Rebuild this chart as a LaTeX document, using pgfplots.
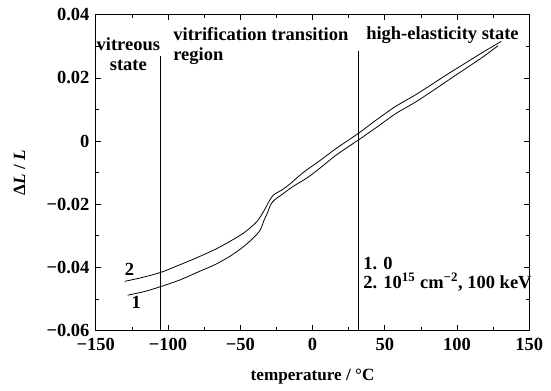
\documentclass[border=0pt]{standalone}
\usepackage{pgfplots}
\pgfplotsset{compat=1.18}
\usepackage{fontspec}
\setmainfont{Liberation Serif}
\begin{document}
\fontsize{14}{15}\selectfont\bfseries
\begin{tikzpicture}
\begin{axis}[
  scale only axis,
  width=328.5pt, height=239.25pt,
  xmin=-150, xmax=150, ymin=-0.06, ymax=0.04,
  scaled y ticks=false,
  xtick={-150,-100,-50,0,50,100,150},
  xticklabels={−150,−100,−50,0,50,100,150},
  ytick={-0.06,-0.04,-0.02,0,0.02,0.04},
  yticklabels={−0.06,−0.04,−0.02,0,0.02,0.04},
  minor xtick={-125,-75,-25,25,75,125},
  minor ytick={-0.05,-0.03,-0.01,0.01,0.03},
  tick align=inside,
  major tick length=4pt, minor tick length=2.5pt,
  tick style={black, line width=0.6pt},
  axis line style={line width=0.9pt},
  ticklabel style={font=\fontsize{14}{15}\selectfont\bfseries},
  xticklabel style={yshift=-1pt},
  xlabel={temperature / °C},
  ylabel={Δ\textit{L} / \textit{L}},
  label style={font=\fontsize{13}{15}\selectfont\bfseries},
  xlabel style={at={(axis description cs:0.5,-0.147)}, anchor=center},
  ylabel style={at={(axis description cs:-0.176,0.5)}, anchor=center},
  clip=false,
]
\path (rel axis cs:-0.221,0.5) (rel axis cs:0.5,1.047) (rel axis cs:1.05,0.5);
% region separators
\addplot[black, line width=0.6pt] coordinates {(-105,-0.06) (-105,0.027)};
\addplot[black, line width=0.6pt] coordinates {(31.5,-0.06) (31.5,0.0284)};
% curve 2 (upper)
\addplot[black, line width=0.6pt, smooth] coordinates {
(-130,-0.0444) (-118,-0.0432) (-104.6,-0.0415) (-92,-0.0392) (-79.5,-0.0368)
(-67,-0.0342) (-56.6,-0.0316) (-48,-0.0292) (-43,-0.0274) (-38,-0.0252)
(-33.8,-0.0222) (-30,-0.0190) (-27,-0.0170) (-22,-0.0157) (-16,-0.0137)
(-10,-0.0113) (-4,-0.0091) (5,-0.0062) (16.4,-0.0023) (31.5,0.0024)
(45,0.0070) (57.5,0.0110) (71,0.0146) (82,0.0178) (92,0.0208)
(105,0.0245) (118,0.0282) (130.6,0.0316)};
% curve 1 (lower)
\addplot[black, line width=0.6pt, smooth] coordinates {
(-128,-0.0488) (-116,-0.0476) (-104.6,-0.0460) (-92,-0.0440) (-79.5,-0.0415)
(-67,-0.0390) (-56.6,-0.0363) (-48,-0.0335) (-40.6,-0.0305) (-36,-0.0280)
(-33.8,-0.0253) (-31,-0.0225) (-29,-0.0201) (-26,-0.0185) (-22,-0.0172)
(-14,-0.0145) (-4,-0.0117) (5,-0.0086) (16.4,-0.0044) (31.5,0.0003)
(45,0.0046) (57.5,0.0087) (71,0.0123) (82,0.0156) (92,0.0187)
(105,0.0227) (118,0.0267) (128.3,0.0302)};
% labels
\node[align=center, inner sep=0pt] at (axis cs:-127.5,0.0275) {vitreous\\state};
\node[align=left, anchor=west, inner sep=0pt] at (axis cs:-96.5,0.0300) {vitrification transition\\region};
\node[anchor=west, inner sep=0pt] at (axis cs:37,0.0337) {high-elasticity state};
\node[inner sep=0pt] at (axis cs:-126.7,-0.0405) {2};
\node[inner sep=0pt] at (axis cs:-122,-0.0512) {1};
\node[anchor=west, inner sep=0pt] at (axis cs:35,-0.0387) {1. 0};
\node[anchor=west, inner sep=0pt] at (axis cs:35,-0.0447) {2. 10\textsuperscript{15} cm\textsuperscript{−2}, 100 keV};
\end{axis}
\end{tikzpicture}
\end{document}
